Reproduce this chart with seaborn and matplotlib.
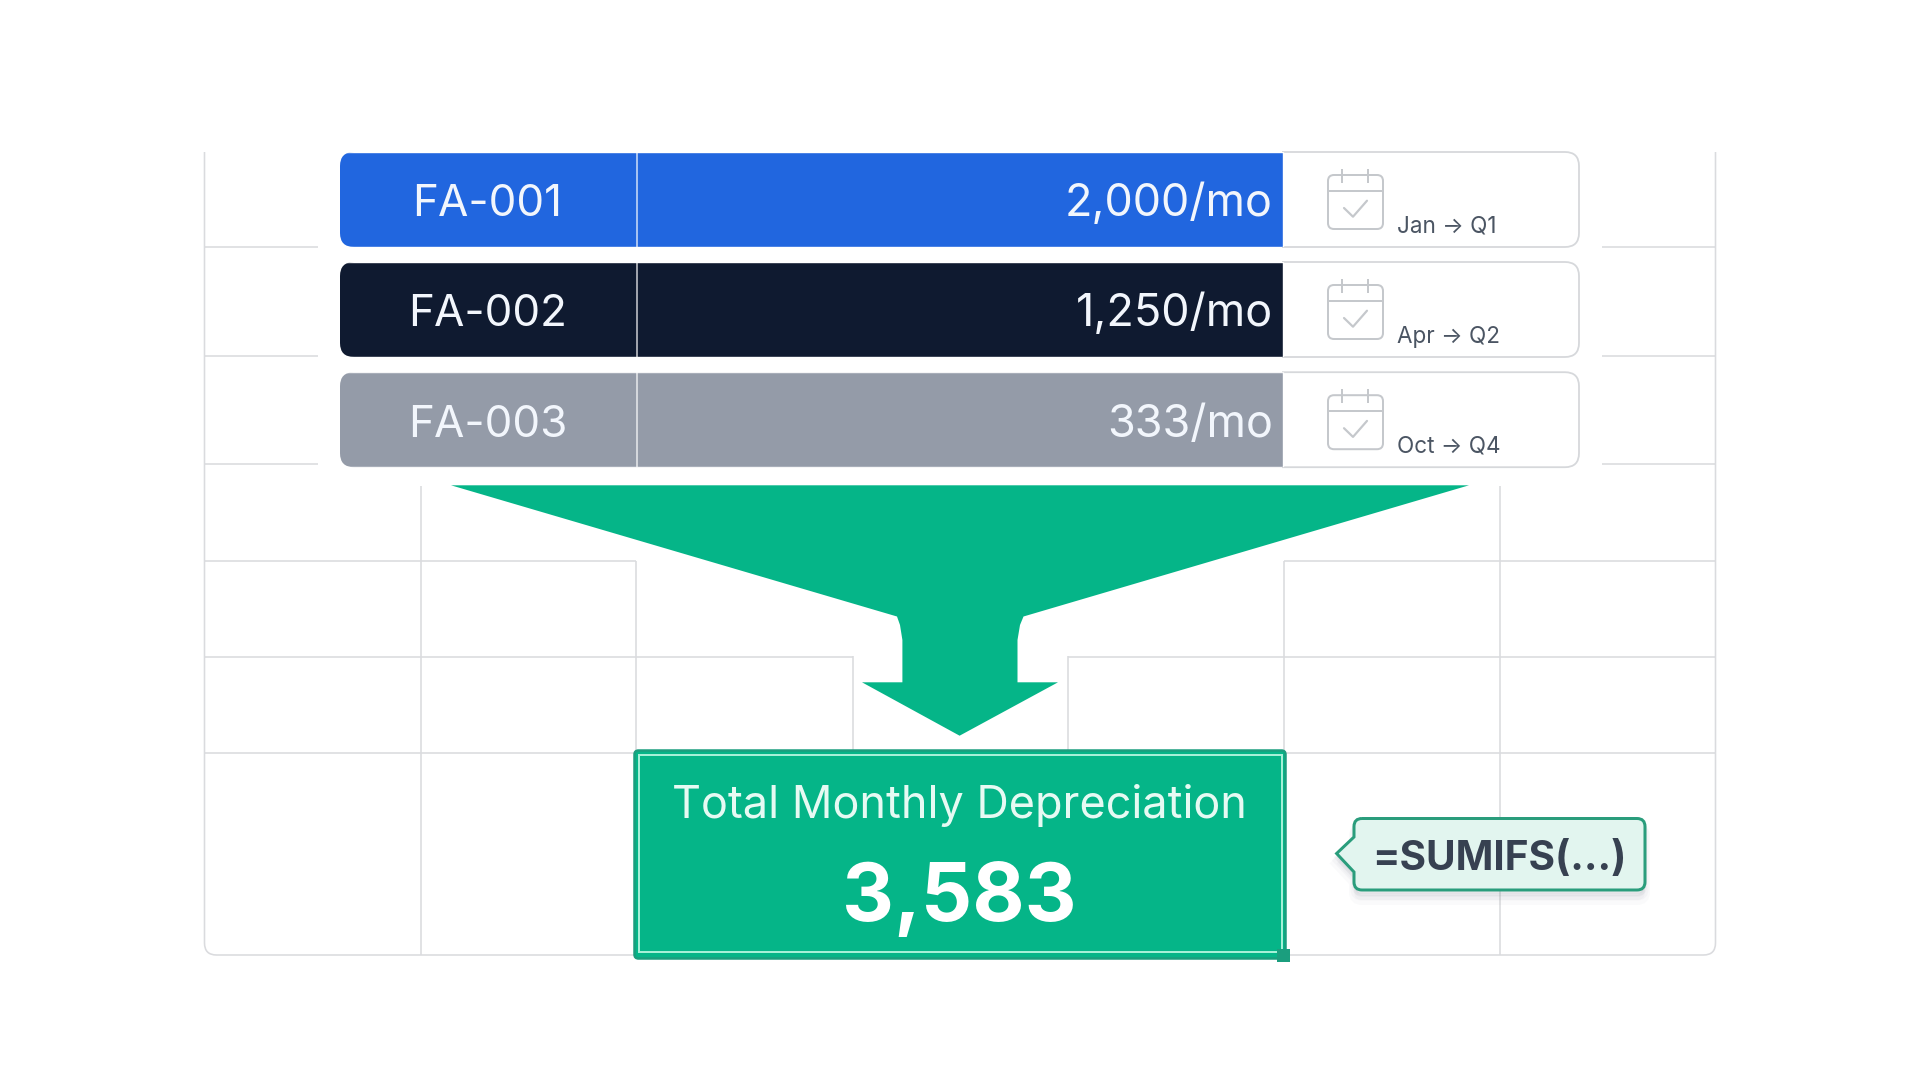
import matplotlib
matplotlib.use("Agg")
import matplotlib.pyplot as plt
from matplotlib.patches import FancyBboxPatch, Polygon, PathPatch, Rectangle
from matplotlib.path import Path
import pandas as pd
import seaborn as sns

# ---- data ----
assets = ["FA-001", "FA-002", "FA-003"]
monthly = [2000, 1250, 333]
start_months = ["Jan", "Apr", "Oct"]
quarters = ["Q1", "Q2", "Q4"]
total_label = "Total Monthly Depreciation"
formula = "=SUMIFS(...)"
colors = ["#2166DF", "#0F1A30", "#949BA8"]

# ---- layout (pixel space of the 1920x1080 canvas) ----
GRID = "#DADBDE"
GREEN = "#05B588"
FONT = ["Inter", "DejaVu Sans"]
row_centers = [199.5, 309.5, 419.7]
band_h = 95
px = 0.72

sns.set_theme(style="white")
plt.rcParams["font.family"] = FONT
fig = plt.figure(figsize=(19.2, 10.8), dpi=100, facecolor="white")
ax = fig.add_axes([0, 0, 1, 1])


def glines(segments, color=GRID, lw=1.6, z=1):
    for (x0, y0, x1, y1) in segments:
        ax.plot([x0, x1], [y0, y1], color=color, lw=lw * px, zorder=z, solid_capstyle="butt")


L, R, B = 204.5, 1715.5, 955
glines([
    (420.5, 486, 420.5, B), (1499.5, 486, 1499.5, B),
    (636, 561, 636, 750), (1284, 561, 1284, 750),
    (852.5, 656, 852.5, 750), (1067.5, 656, 1067.5, 750),
    (L, 247, 318, 247), (L, 356, 318, 356), (L, 463.5, 318, 463.5),
    (1602, 247, R, 247), (1602, 356, R, 356), (1602, 463.5, R, 463.5),
    (L, 560.5, 636, 560.5), (1284, 560.5, R, 560.5),
    (L, 656.5, 852.5, 656.5), (1067.5, 656.5, R, 656.5),
    (L, 753, R, 753),
])
for verts in (
    [(L, 152), (L, B - 12), (L, B), (L + 12, B), (634, B)],
    [(R, 152), (R, B - 12), (R, B), (R - 12, B), (1285, B)],
):
    ax.add_patch(PathPatch(Path(verts, [Path.MOVETO, Path.LINETO, Path.CURVE3, Path.CURVE3, Path.LINETO]),
                           fill=False, ec=GRID, lw=1.6 * px, zorder=1))

# bars through seaborn: clipped below by the rounded rows
df = pd.DataFrame({"asset": assets, "center": row_centers, "end": [1282.5] * 3})
sns.barplot(data=df, x="end", y="center", hue="asset", palette=colors, orient="h",
            native_scale=True, dodge=False, width=band_h / 110, legend=False,
            saturation=1, ax=ax, zorder=3)
ax.set_xlim(0, 1920)
ax.set_ylim(1080, 0)
ax.axis("off")

bars = [container[0] for container in ax.containers]
for i, yc in enumerate(row_centers):
    top = yc - band_h / 2
    # white frame of the row, with its outline shown only right of the bar
    geom = dict(xy=(340 + 14, top + 14), width=1579 - 340 - 28, height=band_h - 28,
                boxstyle="round,pad=14,rounding_size=14")
    frame = FancyBboxPatch(fc="white", ec="none", zorder=2, **geom)
    ax.add_patch(frame)
    bars[i].set_clip_path(frame)
    outline = FancyBboxPatch(fc="none", ec="#D6D8DB", lw=1.8 * px, zorder=2, **geom)
    ax.add_patch(outline)
    outline.set_clip_path(Rectangle((1282, 0), 638, 1080, transform=ax.transData))
    ax.plot([636.5, 636.5], [top, top + band_h], color="white", alpha=0.8, lw=1.5 * px, zorder=4)

    base = yc + 17
    ax.text(487.5, base, assets[i], color="#F2F6FC", fontsize=44 * px, ha="center", va="baseline", zorder=5)
    ax.text(1273, base, f"{monthly[i]:,}/mo", color="#F2F6FC", fontsize=45 * px, ha="right", va="baseline", zorder=5)

    # calendar icon
    dy = yc - 199.5
    ic = "#C5C8CC"
    ax.add_patch(FancyBboxPatch((1334, 181 + dy), 43, 42, boxstyle="round,pad=6,rounding_size=6",
                                fc="white", ec=ic, lw=2 * px, zorder=5))
    glines([(1328, 190.7 + dy, 1383, 190.7 + dy), (1342, 169 + dy, 1342, 182.5 + dy),
            (1368, 169 + dy, 1368, 182.5 + dy)], color=ic, lw=2, z=6)
    ax.plot([1344, 1353, 1367], [208 + dy, 216.7 + dy, 200.7 + dy], color=ic, lw=2.2 * px, zorder=6)

    ax.text(1397, 232.5 + dy, f"{start_months[i]} \u2192 {quarters[i]}", color="#4B5563",
            fontsize=22.5 * px, ha="left", va="baseline", zorder=5)

# funnel arrow
ax.add_patch(Polygon([(451, 485.3), (1469, 485.3), (1023.5, 616.5), (1020, 625), (1017.5, 640),
                      (1017.5, 682.3), (1058, 682.3), (959.6, 735.7), (862, 682.3),
                      (902.4, 682.3), (902.4, 640), (900, 625), (897, 616.5)],
                     closed=True, fc=GREEN, ec="none", zorder=4))

# total box
ax.add_patch(FancyBboxPatch((637.5, 753.5), 645, 202, boxstyle="round,pad=3,rounding_size=4",
                            fc=GREEN, ec="#1B9E7E", lw=2.5 * px, zorder=5))
ax.add_patch(Rectangle((638.5, 754.5), 643, 197.5, fc="none", ec="#A6F0D8", lw=2 * px, zorder=6))
ax.add_patch(Rectangle((1277, 949), 13, 13, fc="#1B9E7E", ec="none", zorder=7))
ax.text(959.5, 818, total_label, color="#E6FAF3", fontsize=45 * px, ha="center", va="baseline", zorder=7)
ax.text(959.5, 921, f"{sum(monthly):,}", color="white", fontsize=80.5 * px, fontweight="bold",
        ha="center", va="baseline", zorder=7)


# formula callout
def callout(dx=0.0, dy=0.0):
    x0, x1, y0, y1, r = 1354 + dx, 1645 + dx, 818.5 + dy, 890 + dy, 8
    v = [(x0 + r, y0), (x1 - r, y0), (x1, y0), (x1, y0 + r), (x1, y1 - r), (x1, y1), (x1 - r, y1),
         (x0 + r, y1), (x0, y1), (x0, y1 - r), (x0, 872 + dy), (1336.6 + dx, 853.5 + dy),
         (x0, 837 + dy), (x0, y0 + r), (x0, y0), (x0 + r, y0)]
    c = [Path.MOVETO, Path.LINETO, Path.CURVE3, Path.CURVE3, Path.LINETO, Path.CURVE3, Path.CURVE3,
         Path.LINETO, Path.CURVE3, Path.CURVE3, Path.LINETO, Path.LINETO,
         Path.LINETO, Path.LINETO, Path.CURVE3, Path.CURVE3]
    return Path(v, c)


for k, a in ((10, 0.03), (7, 0.04), (4, 0.05)):
    ax.add_patch(PathPatch(callout(0, k), fc="#6B7280", ec="#6B7280", lw=k * px, alpha=a, zorder=4))
ax.add_patch(PathPatch(callout(), fc="#E2F5EF", ec="#2A9D7C", lw=3 * px, zorder=5))
ax.text(1499, 870, formula, color="#374151", fontsize=40.6 * px, fontweight="bold",
        ha="center", va="baseline", zorder=6)

fig.savefig("out.png", dpi=100, facecolor="white")
